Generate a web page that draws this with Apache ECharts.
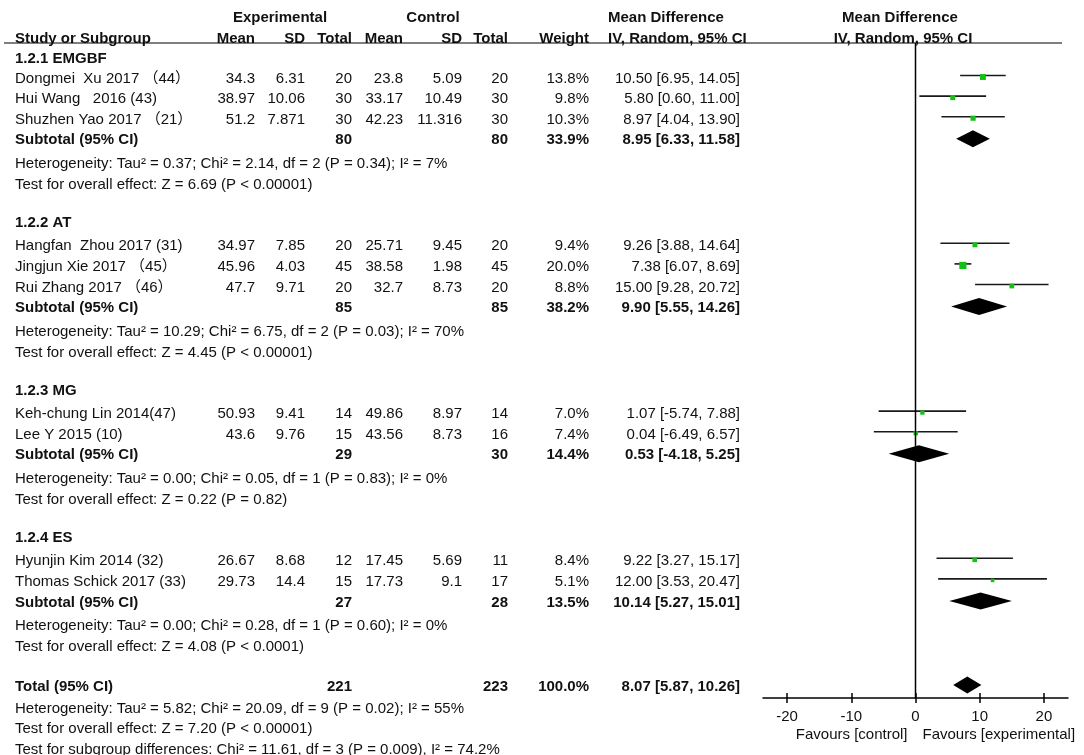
<!DOCTYPE html>
<html>
<head>
<meta charset="utf-8">
<script src="https://cdn.jsdelivr.net/npm/echarts@6/dist/echarts.min.js"></script>
<style>
html,body{margin:0;padding:0;background:#fff;}
#chart{width:1084px;height:755px;}
</style>
</head>
<body>
<div id="chart"></div>
<script>
// ---------------- DATA ----------------
const groupTitles = ['1.2.1 EMGBF', '1.2.2 AT', '1.2.3 MG', '1.2.4 ES'];
const studyNames = [
  'Dongmei  Xu 2017 （44）',
  'Hui Wang   2016 (43)',
  'Shuzhen Yao 2017 （21）',
  'Hangfan  Zhou 2017 (31)',
  'Jingjun Xie 2017 （45）',
  'Rui Zhang 2017 （46）',
  'Keh-chung Lin 2014(47)',
  'Lee Y 2015 (10)',
  'Hyunjin Kim 2014 (32)',
  'Thomas Schick 2017 (33)'
];
const studyGroup = [0, 0, 0, 1, 1, 1, 2, 2, 3, 3];
const expMean  = ['34.3', '38.97', '51.2', '34.97', '45.96', '47.7', '50.93', '43.6', '26.67', '29.73'];
const expSD    = ['6.31', '10.06', '7.871', '7.85', '4.03', '9.71', '9.41', '9.76', '8.68', '14.4'];
const expTotal = [20, 30, 30, 20, 45, 20, 14, 15, 12, 15];
const ctlMean  = ['23.8', '33.17', '42.23', '25.71', '38.58', '32.7', '49.86', '43.56', '17.45', '17.73'];
const ctlSD    = ['5.09', '10.49', '11.316', '9.45', '1.98', '8.73', '8.97', '8.73', '5.69', '9.1'];
const ctlTotal = [20, 30, 30, 20, 45, 20, 14, 16, 11, 17];
const studyWeight = [13.8, 9.8, 10.3, 9.4, 20.0, 8.8, 7.0, 7.4, 8.4, 5.1];
const studyMD     = [10.50, 5.80, 8.97, 9.26, 7.38, 15.00, 1.07, 0.04, 9.22, 12.00];
const studyLow    = [6.95, 0.60, 4.04, 3.88, 6.07, 9.28, -5.74, -6.49, 3.27, 3.53];
const studyHigh   = [14.05, 11.00, 13.90, 14.64, 8.69, 20.72, 7.88, 6.57, 15.17, 20.47];

const subExpTotal = [80, 85, 29, 27];
const subCtlTotal = [80, 85, 30, 28];
const subWeight   = [33.9, 38.2, 14.4, 13.5];
const subMD       = [8.95, 9.90, 0.53, 10.14];
const subLow      = [6.33, 5.55, -4.18, 5.27];
const subHigh     = [11.58, 14.26, 5.25, 15.01];
const hetTau2 = ['0.37', '10.29', '0.00', '0.00'];
const hetChi2 = ['2.14', '6.75', '0.05', '0.28'];
const hetDf   = [2, 2, 1, 1];
const hetP    = ['0.34', '0.03', '0.83', '0.60'];
const hetI2   = ['7', '70', '0', '0'];
const overallZ = ['6.69', '4.45', '0.22', '4.08'];
const overallP = ['< 0.00001', '< 0.00001', '= 0.82', '< 0.0001'];

const totalExp = 221, totalCtl = 223, totalWeight = 100.0;
const totalMD = 8.07, totalLow = 5.87, totalHigh = 10.26;
const totalHet = {tau2: '5.82', chi2: '20.09', df: 9, p: '0.02', i2: '55'};
const totalZ = '7.20', totalP = '< 0.00001';
const subgroupDiff = {chi2: '11.61', df: 3, p: '0.009', i2: '74.2'};

const xTicks = [-20, -10, 0, 10, 20];
const favourLabels = ['Favours [control]', 'Favours [experimental]'];
const headerTop = ['Experimental', 'Control', 'Mean Difference', 'Mean Difference'];
const headerCols = ['Study or Subgroup', 'Mean', 'SD', 'Total', 'Mean', 'SD', 'Total', 'Weight', 'IV, Random, 95% CI', 'IV, Random, 95% CI'];

// ---------------- LAYOUT ----------------
const FONT = '"Liberation Sans", Arial, "Noto Sans CJK SC", sans-serif';
const FS = 15;
const TEXT_DY = 1.5;
const W = 1084, H = 755;
const COL = {name: 15, expMean: 255, expSD: 305, expTot: 352, ctlMean: 403, ctlSD: 462, ctlTot: 508, weight: 589, ci: 740, ciLeft: 608, plotHead: 901};
const PLOT = {left: 763, width: 305, top: 43, axisY: 698, xmin: -23.75, xmax: 23.75};

const cells = [];
function add(x, y, text, align, bold) { cells.push({x: x, y: y, text: String(text), align: align, bold: !!bold}); }
function ci(m, l, h) { return m.toFixed(2) + ' [' + l.toFixed(2) + ', ' + h.toFixed(2) + ']'; }

// headers
add(280, 16, headerTop[0], 'center', true);
add(433, 16, headerTop[1], 'center', true);
add(COL.ciLeft, 16, headerTop[2], 'left', true);
add(COL.plotHead - 1, 16, headerTop[3], 'center', true);
const hy = 37;
add(COL.name, hy, headerCols[0], 'left', true);
add(COL.expMean, hy, headerCols[1], 'right', true);
add(COL.expSD, hy, headerCols[2], 'right', true);
add(COL.expTot, hy, headerCols[3], 'right', true);
add(COL.ctlMean, hy, headerCols[4], 'right', true);
add(COL.ctlSD, hy, headerCols[5], 'right', true);
add(COL.ctlTot, hy, headerCols[6], 'right', true);
add(COL.weight, hy, headerCols[7], 'right', true);
add(COL.ciLeft, hy, headerCols[8], 'left', true);
add(COL.plotHead + 2, hy, headerCols[9], 'center', true);

const studyMarks = [];
const diamonds = [];
let y = 57;
for (let g = 0; g < groupTitles.length; g++) {
  if (g > 0) y += 38;
  add(COL.name, y, groupTitles[g], 'left', true);
  y += (g === 0 ? 20 : 23.5);
  let first = true;
  for (let i = 0; i < studyNames.length; i++) {
    if (studyGroup[i] !== g) continue;
    if (!first) y += 20.6;
    first = false;
    add(COL.name, y, studyNames[i], 'left');
    add(COL.expMean, y, expMean[i], 'right');
    add(COL.expSD, y, expSD[i], 'right');
    add(COL.expTot, y, expTotal[i], 'right');
    add(COL.ctlMean, y, ctlMean[i], 'right');
    add(COL.ctlSD, y, ctlSD[i], 'right');
    add(COL.ctlTot, y, ctlTotal[i], 'right');
    add(COL.weight, y, studyWeight[i].toFixed(1) + '%', 'right');
    add(COL.ci, y, ci(studyMD[i], studyLow[i], studyHigh[i]), 'right');
    studyMarks.push([studyMD[i], y, studyLow[i], studyHigh[i], studyWeight[i]]);
  }
  y += 20.6;
  add(COL.name, y, 'Subtotal (95% CI)', 'left', true);
  add(COL.expTot, y, subExpTotal[g], 'right', true);
  add(COL.ctlTot, y, subCtlTotal[g], 'right', true);
  add(COL.weight, y, subWeight[g].toFixed(1) + '%', 'right', true);
  add(COL.ci, y, ci(subMD[g], subLow[g], subHigh[g]), 'right', true);
  diamonds.push([subMD[g], y, subLow[g], subHigh[g]]);
  y += 23.5;
  add(COL.name, y, 'Heterogeneity: Tau² = ' + hetTau2[g] + '; Chi² = ' + hetChi2[g] + ', df = ' + hetDf[g] + ' (P = ' + hetP[g] + '); I² = ' + hetI2[g] + '%', 'left');
  y += 21;
  add(COL.name, y, 'Test for overall effect: Z = ' + overallZ[g] + ' (P ' + overallP[g] + ')', 'left');
}
y += 39.5;
add(COL.name, y, 'Total (95% CI)', 'left', true);
add(COL.expTot, y, totalExp, 'right', true);
add(COL.ctlTot, y, totalCtl, 'right', true);
add(COL.weight, y, totalWeight.toFixed(1) + '%', 'right', true);
add(COL.ci, y, ci(totalMD, totalLow, totalHigh), 'right', true);
diamonds.push([totalMD, y, totalLow, totalHigh]);
y += 22;
add(COL.name, y, 'Heterogeneity: Tau² = ' + totalHet.tau2 + '; Chi² = ' + totalHet.chi2 + ', df = ' + totalHet.df + ' (P = ' + totalHet.p + '); I² = ' + totalHet.i2 + '%', 'left');
y += 20.5;
add(COL.name, y, 'Test for overall effect: Z = ' + totalZ + ' (P ' + totalP + ')', 'left');
y += 20.5;
add(COL.name, y, 'Test for subgroup differences: Chi² = ' + subgroupDiff.chi2 + ', df = ' + subgroupDiff.df + ' (P = ' + subgroupDiff.p + '), I² = ' + subgroupDiff.i2 + '%', 'left');

// ---------------- CHART ----------------
const chart = echarts.init(document.getElementById('chart'), null, {renderer: 'canvas'});
const TXT = '#111';

const option = {
  backgroundColor: '#fff',
  animation: false,
  grid: [
    {left: 0, top: 0, width: W, height: H},
    {left: PLOT.left, top: PLOT.top, width: PLOT.width, height: PLOT.axisY - PLOT.top}
  ],
  xAxis: [
    {gridIndex: 0, type: 'value', min: 0, max: W, show: false},
    {gridIndex: 1, type: 'value', min: PLOT.xmin, max: PLOT.xmax, position: 'bottom',
      axisLine: {show: true, onZero: false, lineStyle: {color: '#000', width: 1.5}},
      axisTick: {show: true, customValues: xTicks, length: 5, lineStyle: {color: '#000', width: 1.5}},
      axisLabel: {show: true, customValues: xTicks, color: TXT, fontSize: FS, fontFamily: FONT, margin: 11},
      splitLine: {show: false}},
    {gridIndex: 1, type: 'value', min: PLOT.xmin, max: PLOT.xmax, position: 'bottom',
      axisLine: {show: false},
      axisTick: {show: true, inside: true, customValues: xTicks, length: 5, lineStyle: {color: '#000', width: 1.5}},
      axisLabel: {show: false}, splitLine: {show: false}}
  ],
  yAxis: [
    {gridIndex: 0, type: 'value', min: 0, max: H, inverse: true, show: false},
    {gridIndex: 1, type: 'value', min: PLOT.top, max: PLOT.axisY, inverse: true, show: false}
  ],
  series: [
    // header rule
    {type: 'line', xAxisIndex: 0, yAxisIndex: 0, silent: true, symbol: 'none',
      data: [[4, PLOT.top], [1062, PLOT.top]], lineStyle: {color: '#000', width: 1.2}},
    // table text
    {type: 'custom', xAxisIndex: 0, yAxisIndex: 0, silent: true, clip: false,
      data: cells.map(c => [c.x, c.y]),
      renderItem: function (params, api) {
        const c = cells[params.dataIndex];
        const p = api.coord([api.value(0), api.value(1)]);
        return {type: 'text', x: p[0], y: p[1] + TEXT_DY, style: {
          text: c.text, align: c.align, verticalAlign: 'middle',
          fontSize: FS, fontFamily: FONT, fontWeight: c.bold ? 'bold' : 'normal', fill: TXT}};
      }},
    // zero line
    {type: 'line', xAxisIndex: 1, yAxisIndex: 1, silent: true, symbol: 'none',
      data: [[0, PLOT.top], [0, PLOT.axisY]], lineStyle: {color: '#000', width: 1.5}},
    // study CIs and squares
    {type: 'custom', xAxisIndex: 1, yAxisIndex: 1, silent: true, clip: false,
      data: studyMarks,
      renderItem: function (params, api) {
        const yy = api.value(1);
        const a = api.coord([api.value(2), yy]);
        const b = api.coord([api.value(3), yy]);
        const c = api.coord([api.value(0), yy]);
        const s = 1.6 * Math.sqrt(api.value(4));
        return {type: 'group', children: [
          {type: 'line', shape: {x1: a[0], y1: a[1] - 1.5, x2: b[0], y2: b[1] - 1.5}, style: {stroke: '#1a1a1a', lineWidth: 1.6}},
          {type: 'rect', shape: {x: c[0] - s / 2, y: c[1] - s / 2, width: s, height: s}, style: {fill: '#14c014'}}
        ]};
      }},
    // diamonds
    {type: 'custom', xAxisIndex: 1, yAxisIndex: 1, silent: true, clip: false,
      data: diamonds,
      renderItem: function (params, api) {
        const yy = api.value(1);
        const l = api.coord([api.value(2), yy]);
        const r = api.coord([api.value(3), yy]);
        const m = api.coord([api.value(0), yy]);
        const h = 8.5;
        return {type: 'polygon', shape: {points: [[l[0], l[1]], [m[0], m[1] - h], [r[0], r[1]], [m[0], m[1] + h]]},
          style: {fill: '#000'}};
      }},
    // favours labels
    {type: 'custom', xAxisIndex: 1, yAxisIndex: 1, silent: true, clip: false,
      data: [[0, PLOT.axisY]],
      renderItem: function (params, api) {
        const p = api.coord([api.value(0), api.value(1)]);
        const base = {verticalAlign: 'middle', fontSize: FS, fontFamily: FONT, fill: TXT};
        return {type: 'group', children: [
          {type: 'text', x: p[0] - 8, y: p[1] + 36.5, style: Object.assign({text: favourLabels[0], align: 'right'}, base)},
          {type: 'text', x: p[0] + 7, y: p[1] + 36.5, style: Object.assign({text: favourLabels[1], align: 'left'}, base)}
        ]};
      }}
  ]
};
chart.setOption(option);
</script>
</body>
</html>
